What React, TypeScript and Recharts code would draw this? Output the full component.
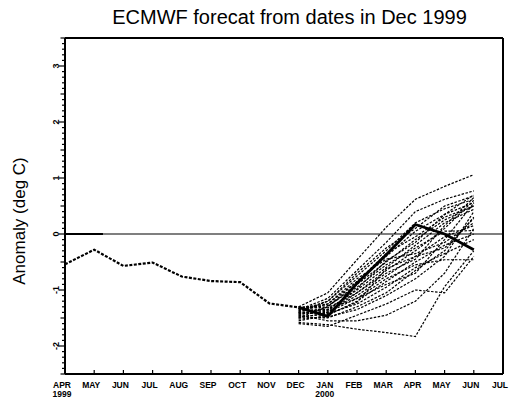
import React from "react";
import { LineChart, Line, XAxis, YAxis, ReferenceLine } from "recharts";

// month axis: APR 1999 .. JUL 2000
const months = ["APR", "MAY", "JUN", "JUL", "AUG", "SEP", "OCT", "NOV", "DEC", "JAN", "FEB", "MAR", "APR", "MAY", "JUN", "JUL"];
const yearUnder: Record<number, string> = { 0: "1999", 9: "2000" };

// observed anomaly, APR..DEC 1999
const observedToDec = [-0.54, -0.28, -0.57, -0.51, -0.76, -0.84, -0.86, -1.24, -1.31];
// verifying observations, DEC 1999..JUN 2000
const observedFromDec = [-1.31, -1.47, -0.88, -0.37, 0.17, 0.0, -0.28];

// ensemble members, DEC..JUN
const FORECAST_START = 8;
const members: number[][] = [
  [-1.30, -1.05, -0.46, 0.12, 0.62, 0.85, 1.06],
  [-1.35, -1.15, -0.65, -0.15, 0.40, 0.62, 0.77],
  [-1.40, -1.20, -0.75, -0.30, 0.20, 0.45, 0.62],
  [-1.32, -1.25, -0.85, -0.40, 0.05, 0.35, 0.56],
  [-1.45, -1.30, -0.90, -0.50, -0.10, 0.25, 0.50],
  [-1.38, -1.35, -1.00, -0.60, -0.20, 0.20, 0.44],
  [-1.50, -1.40, -1.05, -0.65, -0.30, 0.10, 0.60],
  [-1.42, -1.38, -1.10, -0.75, -0.40, -0.05, 0.15],
  [-1.33, -1.28, -0.95, -0.55, -0.25, 0.05, 0.06],
  [-1.55, -1.45, -1.20, -0.85, -0.50, -0.20, 0.00],
  [-1.40, -1.42, -1.25, -0.95, -0.60, -0.35, -0.10],
  [-1.48, -1.50, -1.30, -1.05, -0.65, -0.30, 0.30],
  [-1.58, -1.62, -1.70, -1.76, -1.83, -0.94, -0.30],
  [-1.45, -1.55, -1.55, -1.45, -1.20, -0.70, 0.10],
  [-1.33, -1.35, -1.15, -0.80, -0.55, -0.46, -0.46],
  [-1.50, -1.30, -0.85, -0.35, -0.05, 0.30, 0.50],
  [-1.37, -1.25, -0.80, -0.45, -0.35, -0.15, 0.20],
  [-1.52, -1.48, -1.35, -1.10, -0.80, -0.40, 0.40],
  [-1.30, -1.32, -1.05, -0.70, -0.45, 0.15, 0.65],
  [-1.43, -1.40, -1.15, -0.90, -0.70, -0.10, 0.55],
  [-1.60, -1.65, -1.45, -1.25, -1.00, -1.05, -0.40],
  [-1.36, -1.20, -0.70, -0.25, 0.10, 0.50, 0.68],
  [-1.47, -1.44, -1.22, -0.62, -0.40, -0.25, 0.28],
  [-1.41, -1.36, -0.98, -0.48, -0.15, 0.35, 0.70],
];

const majorTicks = [-2, -1, 0, 1, 2, 3];
// minor ticks every 0.1 between the axis limits
const yTicks = Array.from({ length: 61 }, (_, i) => (i - 25) / 10);
const monthTicks = months.map((_, i) => i);

const rows = months.map((_, i) => {
  const k = i - FORECAST_START;
  const row: Record<string, number | null> = {
    m: i,
    obs1: i < observedToDec.length ? observedToDec[i] : null,
    obs2: k >= 0 && k < observedFromDec.length ? observedFromDec[k] : null,
  };
  members.forEach((vals, j) => {
    row[`e${j}`] = k >= 0 && k < vals.length ? vals[k] : null;
  });
  return row;
});

const tickFont = "'Liberation Sans Narrow', 'Liberation Sans', Arial, sans-serif";

function tickLen(v: number) {
  if (majorTicks.includes(v)) return 6;
  return Math.abs(v * 2 - Math.round(v * 2)) < 1e-6 ? 4.5 : 3;
}

function LeftTick({ x, y, payload }: any) {
  const v = payload.value;
  const lx = x - 6;
  return (
    <g>
      <line x1={x} x2={x - tickLen(v)} y1={y} y2={y} stroke="#000" strokeWidth={1.2} />
      {majorTicks.includes(v) && (
        <text x={lx} y={y} transform={`rotate(-90 ${lx} ${y})`} textAnchor="middle" fontSize={9} fontWeight="bold" fontFamily={tickFont} fill="#000">
          {v}
        </text>
      )}
    </g>
  );
}

function RightTick({ x, y, payload }: any) {
  const v = payload.value;
  const lx = x + 11;
  return (
    <g>
      <line x1={x} x2={x + tickLen(v)} y1={y} y2={y} stroke="#000" strokeWidth={1.2} />
      {majorTicks.includes(v) && (
        <text x={lx} y={y} transform={`rotate(-90 ${lx} ${y})`} textAnchor="middle" fontSize={9} fontWeight="bold" fontFamily={tickFont} fill="#000">
          {v}
        </text>
      )}
    </g>
  );
}

function MonthTick({ x, y, payload }: any) {
  const i = payload.value;
  return (
    <g>
      <line x1={x} x2={x} y1={y} y2={y - 4} stroke="#000" strokeWidth={1.2} />
      <text x={x - 3} y={y + 14} textAnchor="middle" fontSize={8.5} fontWeight="bold" fontFamily={tickFont} fill="#000">
        {months[i]}
      </text>
      {yearUnder[i] && (
        <text x={x - 3} y={y + 23} textAnchor="middle" fontSize={8.5} fontWeight="bold" fontFamily={tickFont} fill="#000">
          {yearUnder[i]}
        </text>
      )}
    </g>
  );
}

const frame = { stroke: "#000", strokeWidth: 2 };

export default function App() {
  return (
    <div style={{ position: "absolute", left: 0, top: 0, width: 513, height: 403, background: "#fff" }}>
      <LineChart width={513} height={403} data={rows} margin={{ top: 38, right: 0, bottom: 0, left: 0 }}>
        <XAxis
          dataKey="m"
          type="number"
          domain={[0, 15]}
          ticks={monthTicks}
          interval={0}
          height={29}
          tickSize={0}
          tickMargin={0}
          tickLine={false}
          axisLine={frame}
          tick={(p: any) => <MonthTick {...p} />}
        />
        <YAxis
          yAxisId="l"
          type="number"
          domain={[-2.5, 3.5]}
          ticks={yTicks}
          interval={0}
          width={65}
          tickSize={0}
          tickMargin={0}
          tickLine={false}
          axisLine={frame}
          tick={(p: any) => <LeftTick {...p} />}
        />
        <YAxis
          yAxisId="r"
          orientation="right"
          type="number"
          domain={[-2.5, 3.5]}
          ticks={yTicks}
          interval={0}
          width={10}
          tickSize={0}
          tickMargin={0}
          tickLine={false}
          axisLine={frame}
          tick={(p: any) => <RightTick {...p} />}
        />
        {/* plot frame */}
        <ReferenceLine yAxisId="l" y={3.5} stroke="#000" strokeWidth={2} />
        <ReferenceLine yAxisId="l" x={0} stroke="#000" strokeWidth={2} />
        <ReferenceLine yAxisId="l" x={15} stroke="#000" strokeWidth={2} />
        <ReferenceLine yAxisId="l" y={0} stroke="#000" strokeWidth={1.2} />
        <ReferenceLine yAxisId="l" segment={[{ x: 0, y: 0 }, { x: 1.3, y: 0 }]} stroke="#000" strokeWidth={2} />
        {members.map((_, j) => (
          <Line
            key={j}
            yAxisId="l"
            dataKey={`e${j}`}
            type="linear"
            stroke="#000"
            strokeWidth={1.2}
            strokeDasharray="2.5 1.5"
            dot={false}
            isAnimationActive={false}
          />
        ))}
        <Line yAxisId="l" dataKey="obs1" type="linear" stroke="#000" strokeWidth={2.2} strokeDasharray="3 1.5" dot={false} isAnimationActive={false} />
        <Line yAxisId="l" dataKey="obs2" type="linear" stroke="#000" strokeWidth={2.8} dot={false} isAnimationActive={false} />
      </LineChart>
      <svg width={513} height={403} style={{ position: "absolute", left: 0, top: 0, pointerEvents: "none" }}>
        <text x={289.5} y={24} textAnchor="middle" fontSize={20} fontFamily="'Liberation Sans', Arial, sans-serif" fill="#000">
          ECMWF forecat from dates in Dec 1999
        </text>
        <text transform="translate(24.5,221) rotate(-90)" textAnchor="middle" fontSize={17} fontFamily="'Liberation Sans', Arial, sans-serif" fill="#000">
          Anomaly (deg C)
        </text>
      </svg>
    </div>
  );
}
